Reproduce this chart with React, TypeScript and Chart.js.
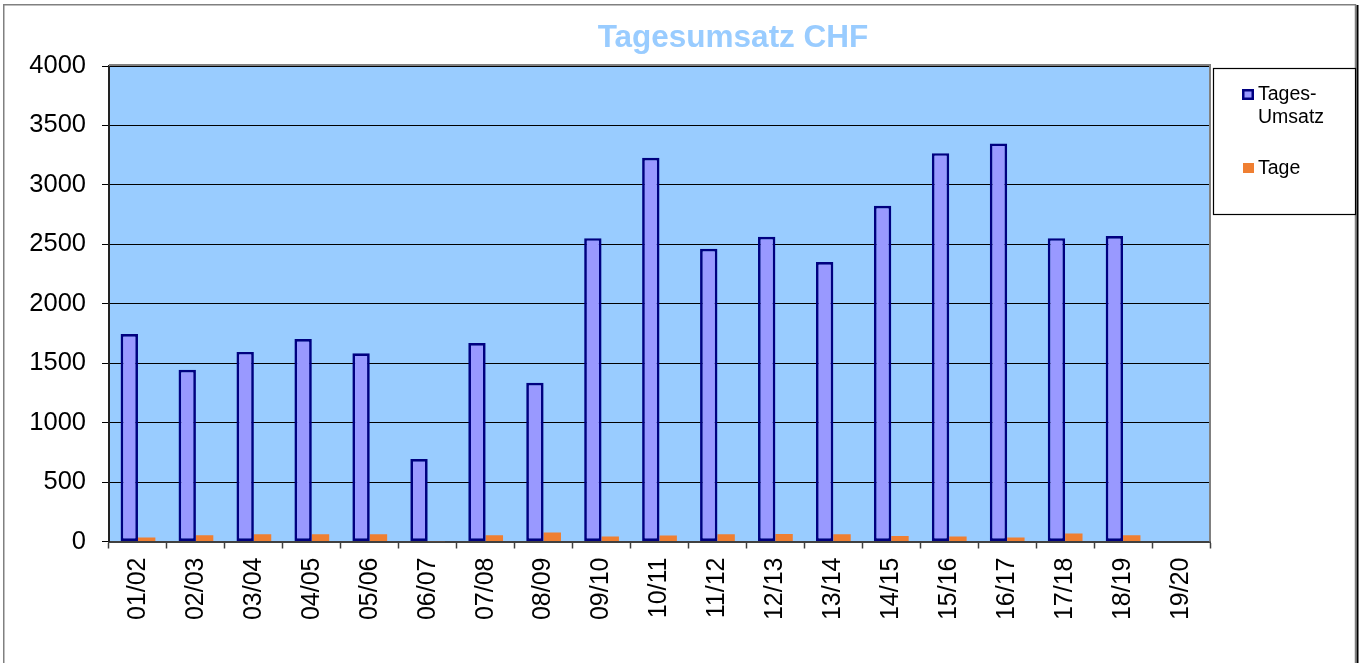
import React, { useEffect, useRef } from "react";
import { Chart, registerables } from "chart.js";

Chart.register(...registerables);

const categories = [
  "01/02", "02/03", "03/04", "04/05", "05/06", "06/07", "07/08", "08/09", "09/10", "10/11",
  "11/12", "12/13", "13/14", "14/15", "15/16", "16/17", "17/18", "18/19", "19/20",
];
const umsatz = [1745, 1445, 1595, 1703, 1583, 694, 1669, 1336, 2552, 3228, 2463, 2563, 2351, 2824, 3267, 3349, 2552, 2569, null];
const tage = [33, 52, 61, 61, 61, 3, 52, 76, 42, 50, 61, 64, 61, 47, 42, 34, 67, 53, null];
const yTicks = [0, 500, 1000, 1500, 2000, 2500, 3000, 3500, 4000];
const titleText = "Tagesumsatz CHF";
const legendLabels = [["Tages-", "Umsatz"], ["Tage"]];

const FONT = "'Liberation Sans', Arial, sans-serif";
const BLUE_FILL = "#9999FF";
const BLUE_BORDER = "#000080";
const ORANGE = "#EF7F32";
const PLOT_BG = "#99CCFF";

const decorPlugin = {
  id: "decor",
  beforeDraw(chart: any) {
    const { ctx, chartArea: a, width, height } = chart;
    ctx.save();
    ctx.fillStyle = "#ffffff";
    ctx.fillRect(0, 0, width, height);
    // outer frame
    ctx.strokeStyle = "#808080";
    ctx.lineWidth = 1.5;
    ctx.beginPath();
    ctx.moveTo(3.75, height + 5);
    ctx.lineTo(3.75, 4.75);
    ctx.lineTo(1355.5, 4.75);
    ctx.lineTo(1355.5, height + 5);
    ctx.stroke();
    ctx.strokeStyle = "#000000";
    ctx.lineWidth = 2;
    ctx.beginPath();
    ctx.moveTo(1357.5, 5);
    ctx.lineTo(1357.5, height + 5);
    ctx.stroke();
    // plot background
    ctx.fillStyle = PLOT_BG;
    ctx.fillRect(a.left, a.top, a.right - a.left, a.bottom - a.top);
    // title
    ctx.fillStyle = PLOT_BG;
    ctx.font = `bold 31.5px ${FONT}`;
    ctx.textAlign = "center";
    ctx.textBaseline = "alphabetic";
    ctx.fillText(titleText, 733, 46.5);
    ctx.restore();
  },
  afterDatasetsDraw(chart: any) {
    const { ctx, chartArea: a } = chart;
    ctx.save();
    ctx.strokeStyle = "#808080";
    ctx.lineWidth = 2;
    ctx.beginPath();
    ctx.moveTo(a.left, a.top - 1);
    ctx.lineTo(a.right, a.top - 1);
    ctx.lineTo(a.right, a.bottom);
    ctx.stroke();
    // legend box
    ctx.strokeStyle = "#000000";
    ctx.lineWidth = 1.2;
    ctx.fillStyle = "#ffffff";
    ctx.fillRect(1213.5, 68.5, 142, 146);
    ctx.strokeRect(1213.5, 68.5, 142, 146);
    // marker 1
    ctx.fillStyle = BLUE_FILL;
    ctx.fillRect(1242, 89, 12, 11);
    ctx.strokeStyle = BLUE_BORDER;
    ctx.lineWidth = 2.5;
    ctx.strokeRect(1243.25, 90.25, 9.5, 8.5);
    // marker 2
    ctx.fillStyle = ORANGE;
    ctx.fillRect(1243, 163, 11, 10);
    ctx.fillStyle = "#000000";
    ctx.font = `19.5px ${FONT}`;
    ctx.textAlign = "left";
    ctx.textBaseline = "alphabetic";
    ctx.fillText(legendLabels[0][0], 1258, 100);
    ctx.fillText(legendLabels[0][1], 1258, 123);
    ctx.fillText(legendLabels[1][0], 1258, 173.5);
    ctx.restore();
  },
};

export default function App() {
  const ref = useRef<HTMLCanvasElement | null>(null);
  useEffect(() => {
    document.body.style.margin = "0";
    const canvas = ref.current!;
    const chart = new Chart(canvas, {
      type: "bar",
      data: {
        labels: categories,
        datasets: [
          {
            label: "Tages-Umsatz",
            data: umsatz,
            backgroundColor: BLUE_FILL,
            borderColor: BLUE_BORDER,
            borderWidth: 2.7,
            borderSkipped: false,
            categoryPercentage: 0.6,
            barPercentage: 1.0,
          },
          {
            label: "Tage",
            data: tage,
            backgroundColor: ORANGE,
            borderWidth: 0,
            categoryPercentage: 0.6,
            barPercentage: 1.0,
          },
        ],
      },
      options: {
        responsive: false,
        animation: false,
        devicePixelRatio: 1,
        layout: { padding: { top: 66, right: 153, left: 0, bottom: 0 } },
        plugins: {
          legend: { display: false },
          title: { display: false },
          tooltip: { enabled: false },
        },
        scales: {
          x: {
            offset: true,
            grid: {
              display: true,
              drawOnChartArea: false,
              drawTicks: true,
              tickLength: 7,
              tickColor: "#404040",
              tickWidth: 1.5,
              offset: true,
            },
            border: { display: true, color: "#404040", width: 2 },
            ticks: {
              autoSkip: false,
              minRotation: 90,
              maxRotation: 90,
              padding: 9,
              color: "#000000",
              font: { family: FONT, size: 25 },
            },
            afterFit(scale: any) {
              scale.height = 663 - 541.5;
            },
          },
          y: {
            min: 0,
            max: 4000,
            afterBuildTicks(scale: any) {
              scale.ticks = yTicks.map((v) => ({ value: v }));
            },
            grid: {
              color: "#000000",
              lineWidth: 1,
              drawTicks: true,
              tickLength: 7,
              tickColor: "#000000",
            },
            border: { display: true, color: "#222222", width: 2 },
            ticks: {
              padding: 16,
              color: "#000000",
              font: { family: FONT, size: 25.5 },
              callback: (v: any) => String(v),
            },
            afterFit(scale: any) {
              scale.width = 109;
            },
          },
        },
      },
      plugins: [decorPlugin],
    });
    return () => chart.destroy();
  }, []);
  return (
    <div style={{ width: 1363, height: 663 }}>
      <canvas ref={ref} width={1363} height={663} style={{ display: "block" }} />
    </div>
  );
}
